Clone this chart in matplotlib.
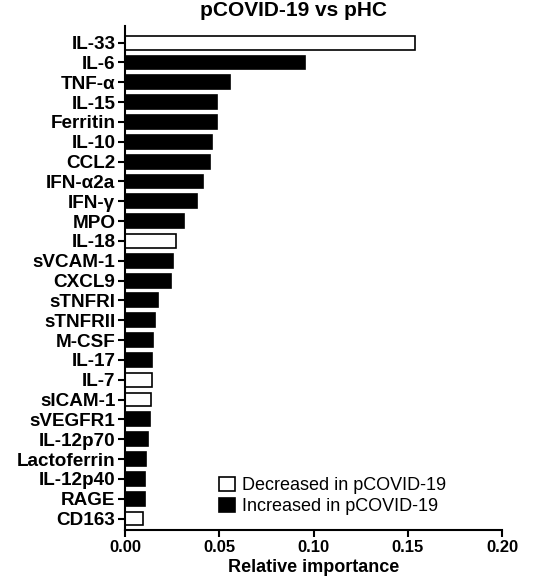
import matplotlib
matplotlib.use("Agg")
import matplotlib.pyplot as plt
from matplotlib.patches import Patch

plt.rcParams['font.family'] = ['Liberation Sans', 'DejaVu Sans']

# markers ranked by relative importance
markers = ['IL-33', 'IL-6', 'TNF-α', 'IL-15', 'Ferritin', 'IL-10', 'CCL2',
           'IFN-α2a', 'IFN-γ', 'MPO', 'IL-18', 'sVCAM-1', 'CXCL9', 'sTNFRI',
           'sTNFRII', 'M-CSF', 'IL-17', 'IL-7', 'sICAM-1', 'sVEGFR1',
           'IL-12p70', 'Lactoferrin', 'IL-12p40', 'RAGE', 'CD163']
importance = [0.154, 0.0957, 0.0559, 0.049, 0.0486, 0.046, 0.0449,
              0.0412, 0.038, 0.0311, 0.027, 0.0256, 0.0244, 0.0175,
              0.0157, 0.0147, 0.0143, 0.0142, 0.0140, 0.0131,
              0.012, 0.0113, 0.0106, 0.0106, 0.0097]
# 'dec' = decreased in pCOVID-19, 'inc' = increased
direction = ['dec', 'inc', 'inc', 'inc', 'inc', 'inc', 'inc',
             'inc', 'inc', 'inc', 'dec', 'inc', 'inc', 'inc',
             'inc', 'inc', 'inc', 'dec', 'dec', 'inc',
             'inc', 'inc', 'inc', 'inc', 'dec']
xticks = [0.00, 0.05, 0.10, 0.15, 0.20]

fig = plt.figure(figsize=(5.33, 5.87), dpi=100)
ax = fig.add_axes([125/533, 1-530/587, 377/533, 504/587])

fills = ['white' if d == 'dec' else 'black' for d in direction]
ypos = list(range(len(markers)))
ax.barh(ypos, importance, height=0.7, color=fills, edgecolor='black', linewidth=1.2)

ax.set_ylim(24.58, -0.84)
ax.set_xlim(0, 0.20)
ax.set_yticks(ypos)
ax.set_yticklabels(markers, fontsize=13.6, fontweight='bold')
ax.set_xticks(xticks)
ax.set_xticklabels(['%.2f' % t for t in xticks], fontsize=12, fontweight='bold')
ax.set_xlabel('Relative importance', fontsize=13, fontweight='bold', labelpad=3)

for s in ['top', 'right']:
    ax.spines[s].set_visible(False)
for s in ['left', 'bottom']:
    ax.spines[s].set_linewidth(1.5)
ax.tick_params(width=1.5, length=5, pad=2)

fig.text(294/533, 1-16/587, 'pCOVID-19 vs pHC', fontsize=15, fontweight='bold',
         ha='center', va='baseline')

handles = [Patch(facecolor='white', edgecolor='black', linewidth=1.2),
           Patch(facecolor='black', edgecolor='black', linewidth=1.2)]
ax.legend(handles, ['Decreased in pCOVID-19', 'Increased in pCOVID-19'],
          loc='lower left', bbox_to_anchor=(0.249, 0.03), frameon=False,
          fontsize=13, handlelength=0.9, handleheight=0.8, handletextpad=0.4,
          labelspacing=0.2, borderpad=0, borderaxespad=0)

fig.savefig('out.png', dpi=100)
